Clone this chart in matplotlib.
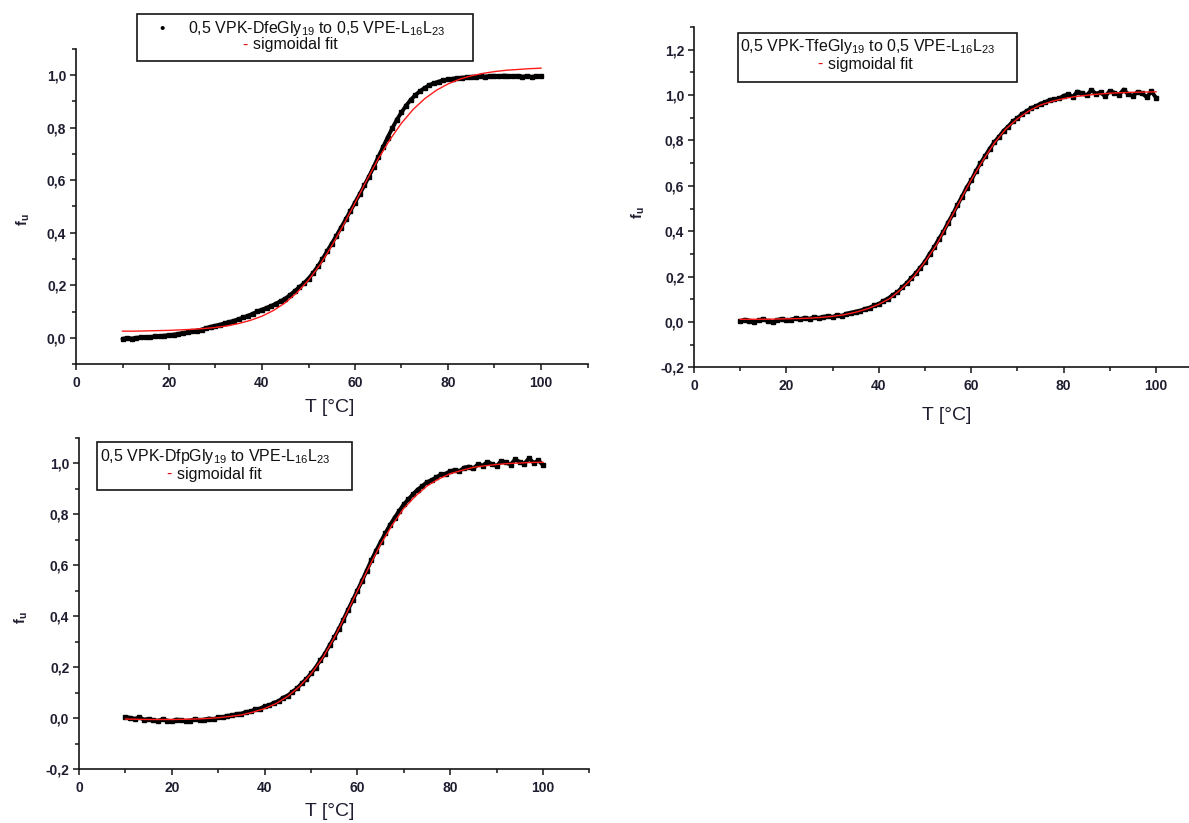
import matplotlib
matplotlib.use("Agg")
import matplotlib.pyplot as plt
from matplotlib.patches import Rectangle
from matplotlib.ticker import MultipleLocator

plt.rcParams['font.family'] = ['Liberation Sans', 'DejaVu Sans']
plt.rcParams['mathtext.fontset'] = 'custom'
plt.rcParams['mathtext.rm'] = 'Liberation Sans'
plt.rcParams['mathtext.it'] = 'Liberation Sans:italic'
plt.rcParams['mathtext.bf'] = 'Liberation Sans:bold'

# ---------------- data ----------------
# temperatures of the measured points (1 degC steps, 10..100)
T_meas = list(range(10, 101))
# temperatures of the fit curves (2.5 degC steps)
T_fit = [10 + 2.5 * i for i in range(37)]

# Panel 1: 0,5 VPK-DfeGly19 to 0,5 VPE-L16L23
f1 = [-0.003, 0.000, -0.002, 0.001, 0.002, 0.003, 0.004, 0.006, 0.007, 0.009,
      0.011, 0.013, 0.016, 0.019, 0.022, 0.025, 0.028, 0.032, 0.038, 0.043,
      0.047, 0.051, 0.056, 0.061, 0.066, 0.072, 0.078, 0.085, 0.092, 0.101,
      0.108, 0.115, 0.122, 0.131, 0.140, 0.150, 0.163, 0.178, 0.193, 0.208,
      0.226, 0.248, 0.272, 0.300, 0.330, 0.359, 0.389, 0.420, 0.451, 0.483,
      0.515, 0.547, 0.580, 0.614, 0.650, 0.688, 0.725, 0.762, 0.797, 0.830,
      0.858, 0.884, 0.906, 0.924, 0.939, 0.951, 0.962, 0.969, 0.975, 0.980,
      0.983, 0.986, 0.988, 0.990, 0.991, 0.993, 0.994, 0.995, 0.994, 0.996,
      0.997, 0.995, 0.998, 0.996, 0.995, 0.997, 0.994, 0.996, 0.993, 0.995,
      0.996]
fit1 = [0.026, 0.026, 0.027, 0.028, 0.029, 0.031, 0.033, 0.036, 0.040, 0.046,
        0.055, 0.067, 0.083, 0.105, 0.134, 0.172, 0.220, 0.279, 0.350, 0.429,
        0.513, 0.599, 0.681, 0.754, 0.817, 0.869, 0.910, 0.942, 0.966, 0.984,
        0.997, 1.006, 1.013, 1.018, 1.021, 1.024, 1.026]

# Panel 2: 0,5 VPK-TfeGly19 to 0,5 VPE-L16L23
f2 = [0.004, 0.010, 0.006, 0.001, 0.008, 0.012, 0.003, -0.002, 0.009, 0.014,
      0.007, 0.011, 0.016, 0.012, 0.019, 0.014, 0.021, 0.018, 0.023, 0.026,
      0.022, 0.031, 0.027, 0.037, 0.041, 0.046, 0.050, 0.058, 0.063, 0.073,
      0.079, 0.093, 0.103, 0.119, 0.131, 0.152, 0.170, 0.193, 0.215, 0.240,
      0.266, 0.300, 0.330, 0.366, 0.398, 0.438, 0.474, 0.515, 0.552, 0.592,
      0.624, 0.664, 0.699, 0.731, 0.763, 0.792, 0.816, 0.842, 0.861, 0.884,
      0.898, 0.917, 0.929, 0.943, 0.950, 0.962, 0.968, 0.979, 0.981, 0.985,
      0.996, 1.004, 0.992, 1.015, 1.008, 0.998, 1.022, 1.006, 1.012, 0.994,
      1.018, 1.010, 1.001, 1.024, 1.003, 0.996, 1.014, 1.008, 0.990, 1.016,
      0.988]
fit2 = [0.012, 0.012, 0.012, 0.013, 0.014, 0.015, 0.017, 0.020, 0.025, 0.032,
        0.043, 0.058, 0.078, 0.105, 0.147, 0.198, 0.265, 0.340, 0.435, 0.530,
        0.626, 0.710, 0.788, 0.850, 0.895, 0.930, 0.956, 0.972, 0.984, 0.993,
        0.999, 1.004, 1.008, 1.010, 1.012, 1.013, 1.014]

# Panel 3: 0,5 VPK-DfpGly19 to VPE-L16L23
f3 = [0.004, 0.001, -0.003, 0.002, -0.006, -0.004, -0.009, -0.011, -0.005, -0.010,
      -0.013, -0.006, -0.008, -0.012, -0.010, -0.004, -0.009, -0.006, -0.002, -0.005,
      0.002, 0.003, 0.009, 0.010, 0.016, 0.017, 0.024, 0.026, 0.034, 0.037,
      0.046, 0.050, 0.060, 0.066, 0.080, 0.088, 0.103, 0.117, 0.136, 0.153,
      0.175, 0.198, 0.226, 0.252, 0.285, 0.316, 0.350, 0.386, 0.425, 0.462,
      0.500, 0.538, 0.578, 0.618, 0.655, 0.690, 0.724, 0.756, 0.785, 0.812,
      0.838, 0.858, 0.878, 0.896, 0.910, 0.925, 0.933, 0.944, 0.955, 0.958,
      0.968, 0.972, 0.968, 0.982, 0.986, 0.979, 0.995, 0.990, 1.004, 0.996,
      0.988, 1.008, 1.002, 0.994, 1.014, 1.004, 0.998, 1.019, 1.000, 1.010,
      0.992]
fit3 = [-0.004, -0.005, -0.006, -0.006, -0.006, -0.005, -0.004, -0.002, 0.001, 0.006,
        0.012, 0.023, 0.037, 0.057, 0.085, 0.123, 0.173, 0.235, 0.314, 0.404,
        0.498, 0.592, 0.681, 0.757, 0.822, 0.870, 0.910, 0.937, 0.958, 0.971,
        0.983, 0.989, 0.994, 0.998, 1.000, 1.002, 1.003]

xticks = [0, 20, 40, 60, 80, 100]
xticklabels = ['0', '20', '40', '60', '80', '100']
yticks_a = [0.0, 0.2, 0.4, 0.6, 0.8, 1.0]
yticklabels_a = ['0,0', '0,2', '0,4', '0,6', '0,8', '1,0']
yticks_b = [-0.2, 0.0, 0.2, 0.4, 0.6, 0.8, 1.0, 1.2]
yticklabels_b = ['-0,2', '0,0', '0,2', '0,4', '0,6', '0,8', '1,0', '1,2']
yticks_c = [-0.2, 0.0, 0.2, 0.4, 0.6, 0.8, 1.0]
yticklabels_c = ['-0,2', '0,0', '0,2', '0,4', '0,6', '0,8', '1,0']

legend1 = r'0,5 VPK-DfeGly$_{19}$ to 0,5 VPE-L$_{16}$L$_{23}$'
legend2 = r'0,5 VPK-TfeGly$_{19}$ to 0,5 VPE-L$_{16}$L$_{23}$'
legend3 = r'0,5 VPK-DfpGly$_{19}$ to VPE-L$_{16}$L$_{23}$'
fit_label = 'sigmoidal fit'
xlabel = 'T [°C]'
ylabel = r'f$_\mathbf{u}$'

# ---------------- layout ----------------
W, H = 1189, 823
fig = plt.figure(figsize=(W / 100, H / 100), dpi=100)
AXC = '#151515'
TXC = '#1e1e30'
LEG_FS = 11.5


def add_axes_px(left, right, top, bottom):
    return fig.add_axes([left / W, 1 - bottom / H, (right - left) / W, (bottom - top) / H])


def style(ax, ylim, yt, ytl):
    ax.set_xlim(0, 110)
    ax.set_ylim(*ylim)
    for s in ('top', 'right'):
        ax.spines[s].set_visible(False)
    for s in ('left', 'bottom'):
        ax.spines[s].set_linewidth(1.2)
        ax.spines[s].set_color(AXC)
    ax.set_xticks(xticks)
    ax.set_xticklabels(xticklabels)
    ax.set_yticks(yt)
    ax.set_yticklabels(ytl)
    ax.xaxis.set_minor_locator(MultipleLocator(10))
    ax.yaxis.set_minor_locator(MultipleLocator(0.1))
    ax.tick_params(which='major', direction='out', length=4.5, width=1.1, color=AXC,
                   labelsize=10, labelcolor=TXC, pad=2.5)
    ax.tick_params(which='minor', direction='out', length=2.8, width=1.1, color=AXC)
    ax.tick_params(axis='x', which='major', pad=4)
    for lab in ax.get_xticklabels() + ax.get_yticklabels():
        lab.set_fontweight('bold')
    ax.patch.set_alpha(0)


def draw(ax, T, f, Tf, ff):
    ax.plot(T, f, '-', color='black', lw=2.8, solid_capstyle='round',
            solid_joinstyle='round', zorder=2, clip_on=False)
    ax.plot(T, f, 's', color='black', ms=3.4, zorder=2, clip_on=False)
    ax.plot(Tf, ff, '-', color='#ff1a1a', lw=1.0, zorder=3, clip_on=False)


def ftext(x, y, s, **kw):
    fig.text(x / W, 1 - y / H, s, **kw)


def box(x0, x1, y0, y1):
    fig.add_artist(Rectangle((x0 / W, 1 - y1 / H), (x1 - x0) / W, (y1 - y0) / H,
                             transform=fig.transFigure, fill=False, lw=1.2, edgecolor=AXC))


# Panel 1
ax1 = add_axes_px(76, 76 + 4.65 * 110, 338 - 1.1 * 263, 338 + 0.1 * 263)
style(ax1, (-0.1, 1.1), yticks_a, yticklabels_a)
draw(ax1, T_meas, f1, T_fit, fit1)

# Panel 2
ax2 = add_axes_px(694, 694 + 4.62 * 110, 322 - 1.3 * 227, 322 + 0.2 * 227)
style(ax2, (-0.2, 1.3), yticks_b, yticklabels_b)
draw(ax2, T_meas, f2, T_fit, fit2)

# Panel 3
ax3 = add_axes_px(79, 79 + 4.64 * 110, 718 - 1.1 * 255, 718 + 0.2 * 255)
style(ax3, (-0.2, 1.1), yticks_c, yticklabels_c)
draw(ax3, T_meas, f3, T_fit, fit3)

# axis labels
for (x, y) in [(330, 407), (947, 415), (330, 812)]:
    ftext(x, y, xlabel, ha='center', va='center', fontsize=14, color=TXC)
for (x, y) in [(23, 220), (638, 213), (21, 618)]:
    ftext(x, y, ylabel, ha='center', va='center', fontsize=10.5, rotation=90,
          fontweight='bold', color=TXC)

# legends
box(137, 473, 14, 61)
ftext(162, 29, '•', ha='center', va='center', fontsize=11, color='black')
ftext(188, 33.5, legend1, ha='left', va='baseline', fontsize=LEG_FS, color='#111111')
ftext(245, 49.5, '-', ha='center', va='baseline', fontsize=LEG_FS, color='#e00000')
ftext(253, 49.5, fit_label, ha='left', va='baseline', fontsize=LEG_FS, color='#111111')

box(738, 1017, 33, 82)
ftext(740, 51, legend2, ha='left', va='baseline', fontsize=LEG_FS, color='#111111')
ftext(820, 69, '-', ha='center', va='baseline', fontsize=LEG_FS, color='#e00000')
ftext(828, 69, fit_label, ha='left', va='baseline', fontsize=LEG_FS, color='#111111')

box(97, 352, 442, 490)
ftext(169, 479, '-', ha='center', va='baseline', fontsize=LEG_FS, color='#e00000')
ftext(100, 461, legend3, ha='left', va='baseline', fontsize=LEG_FS, color='#111111')
ftext(177, 479, fit_label, ha='left', va='baseline', fontsize=LEG_FS, color='#111111')

fig.savefig('out.png', dpi=100)
